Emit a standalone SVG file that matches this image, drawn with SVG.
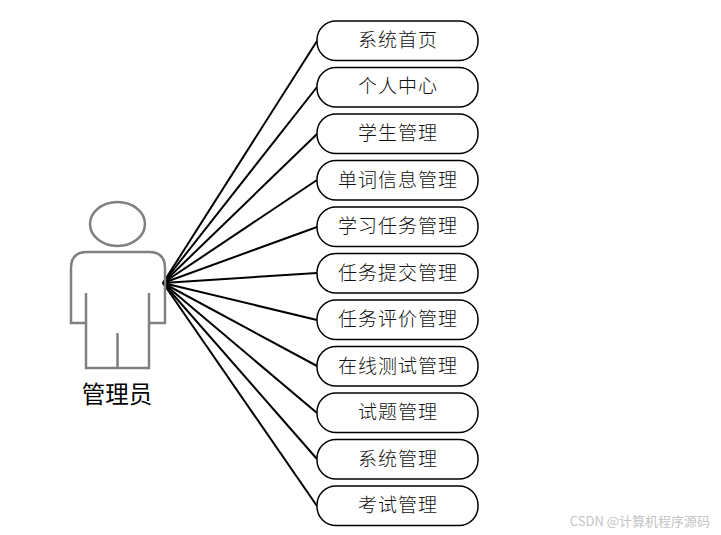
<svg xmlns="http://www.w3.org/2000/svg" width="721" height="535" viewBox="0 0 721 535">
<style>
.n rect{fill:#fff;stroke:#000;stroke-width:1.5}
.n text{font:300 19px "Noto Sans CJK SC","Noto Sans CJK JP",sans-serif;letter-spacing:1px;text-anchor:middle;fill:#111}
#connectors line{stroke:#000;stroke-width:2}
#actor path,#actor ellipse{fill:none;stroke:#808080;stroke-width:2.500}
</style>
<rect width="721" height="535" fill="#fff"/>
<g id="connectors">
<line x1="163" y1="283" x2="317" y2="41"/>
<line x1="163" y1="283" x2="317" y2="87"/>
<line x1="163" y1="283" x2="317" y2="134"/>
<line x1="163" y1="283" x2="317" y2="180"/>
<line x1="163" y1="283" x2="317" y2="227"/>
<line x1="163" y1="283" x2="317" y2="273"/>
<line x1="163" y1="283" x2="317" y2="320"/>
<line x1="163" y1="283" x2="317" y2="366"/>
<line x1="163" y1="283" x2="317" y2="413"/>
<line x1="163" y1="283" x2="317" y2="459"/>
<line x1="163" y1="283" x2="317" y2="506"/>
</g>
<g id="actor">
<ellipse cx="117.500" cy="224" rx="27.500" ry="22"/>
<path d="M86 323H71V268Q71 252 87 252H149Q165 252 165 268V323H149M86 293V368H149V293M117.500 333V368"/>
<text x="117" y="403" style="font:400 23.500px 'Noto Sans CJK SC',sans-serif;text-anchor:middle;fill:#000">管理员</text>
</g>
<g id="n1" class="n"><rect x="317" y="21" width="161" height="39.500" rx="19" ry="19"/><text x="398" y="47">系统首页</text></g>
<g id="n2" class="n"><rect x="317" y="67.500" width="161" height="39.500" rx="19" ry="19"/><text x="398" y="93">个人中心</text></g>
<g id="n3" class="n"><rect x="317" y="114" width="161" height="39.500" rx="19" ry="19"/><text x="398" y="140">学生管理</text></g>
<g id="n4" class="n"><rect x="317" y="160.500" width="161" height="39.500" rx="19" ry="19"/><text x="398" y="187">单词信息管理</text></g>
<g id="n5" class="n"><rect x="317" y="207" width="161" height="39.500" rx="19" ry="19"/><text x="398" y="233">学习任务管理</text></g>
<g id="n6" class="n"><rect x="317" y="253.500" width="161" height="39.500" rx="19" ry="19"/><text x="398" y="280">任务提交管理</text></g>
<g id="n7" class="n"><rect x="317" y="300" width="161" height="39.500" rx="19" ry="19"/><text x="398" y="326">任务评价管理</text></g>
<g id="n8" class="n"><rect x="317" y="346.500" width="161" height="39.500" rx="19" ry="19"/><text x="398" y="373">在线测试管理</text></g>
<g id="n9" class="n"><rect x="317" y="393" width="161" height="39.500" rx="19" ry="19"/><text x="398" y="419">试题管理</text></g>
<g id="n10" class="n"><rect x="317" y="439.500" width="161" height="39.500" rx="19" ry="19"/><text x="398" y="466">系统管理</text></g>
<g id="n11" class="n"><rect x="317" y="486" width="161" height="39.500" rx="19" ry="19"/><text x="398" y="512">考试管理</text></g>
<text x="710" y="526" style="font:13px 'Noto Sans CJK SC',sans-serif;text-anchor:end;fill:#c4c4c4">CSDN @计算机程序源码</text>
</svg>
